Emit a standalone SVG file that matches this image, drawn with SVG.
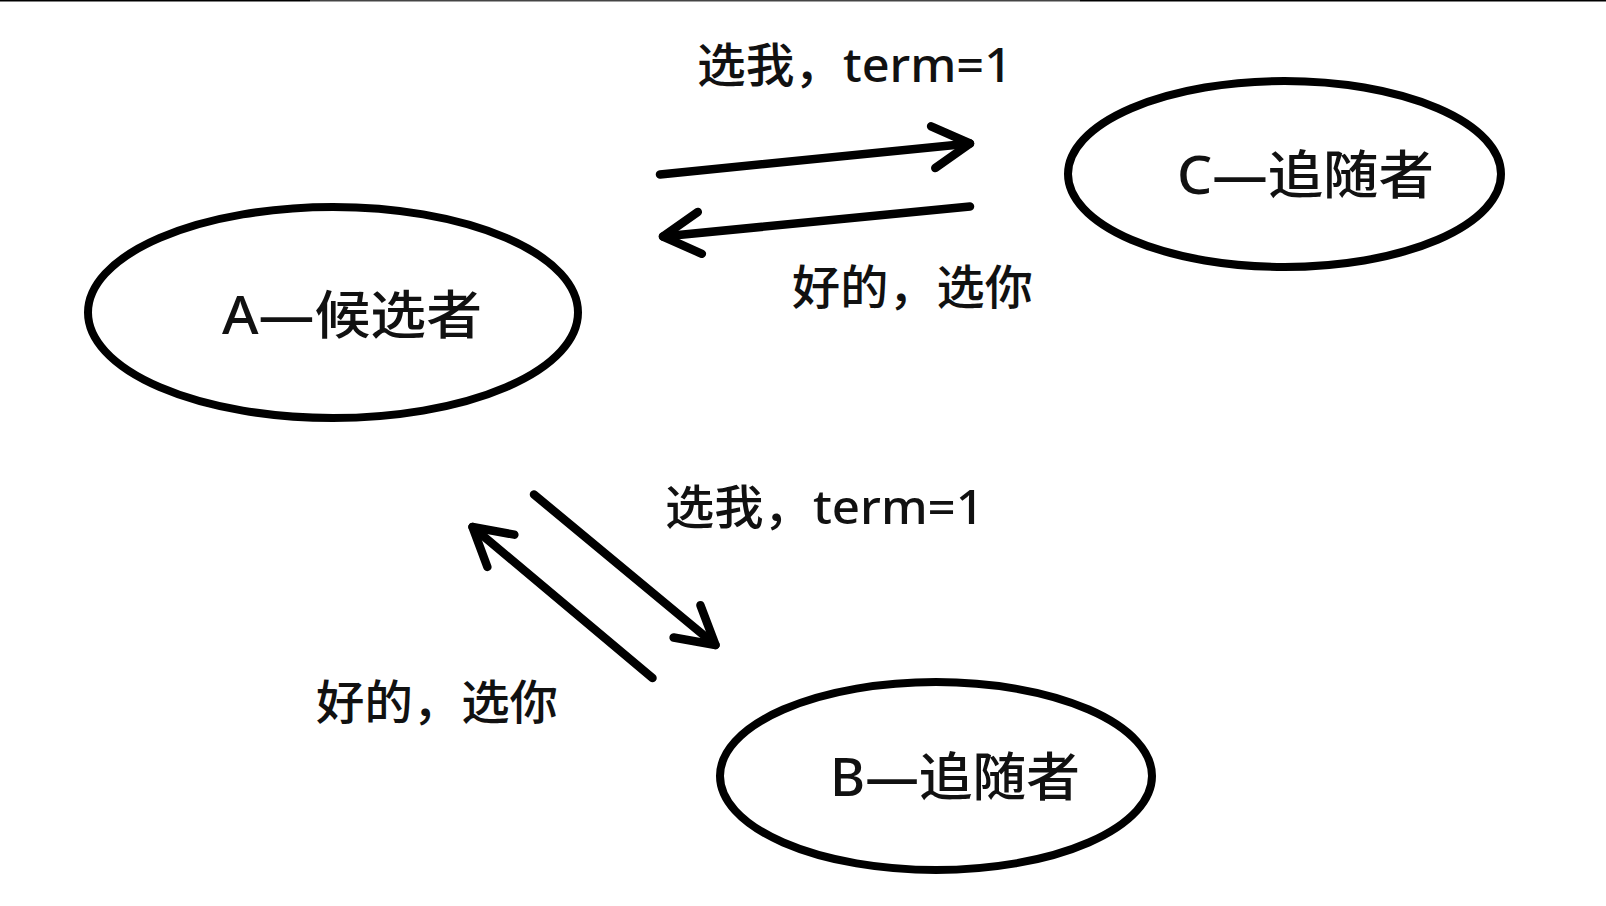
<svg xmlns="http://www.w3.org/2000/svg" width="1606" height="906" viewBox="0 0 1606 906">
  <defs>
    <style>
      .node { fill: none; stroke: #000; stroke-width: 8; }
      .lbl { font-family: 'Noto Sans', 'Noto Sans CJK SC', sans-serif; fill: #111; font-weight: 500; }
      .nlbl { font-size: 52px; }
      .elbl { font-size: 47px; }
      .edge { stroke: #000; stroke-width: 8.5; stroke-linecap: round; fill: none; }
    </style>
    <marker id="chev" markerUnits="userSpaceOnUse" orient="auto" refX="0" refY="0" markerWidth="100" markerHeight="100" overflow="visible">
      <path d="M -37,-21 L 0,0 L -37,21" fill="none" stroke="#000" stroke-width="8.5" stroke-linecap="round" stroke-linejoin="round"/>
    </marker>
  </defs>
  <rect x="0" y="0" width="1606" height="906" fill="#fff"/>
  <rect x="0" y="0" width="310" height="1.5" fill="#000"/>
  <rect x="310" y="0" width="770" height="1.5" fill="#444"/>
  <rect x="1080" y="0" width="526" height="1.5" fill="#000"/>

  <g id="node-A">
    <ellipse class="node" cx="333" cy="312.5" rx="245" ry="105.5"/>
    <text class="lbl nlbl" x="222" y="334" textLength="260" lengthAdjust="spacingAndGlyphs">A—候选者</text>
  </g>
  <g id="node-C">
    <ellipse class="node" cx="1284.5" cy="174" rx="216.5" ry="93"/>
    <text class="lbl nlbl" x="1177" y="194" textLength="257" lengthAdjust="spacingAndGlyphs">C—追随者</text>
  </g>
  <g id="node-B">
    <ellipse class="node" cx="936" cy="776" rx="216" ry="94"/>
    <text class="lbl nlbl" x="830" y="796" textLength="250" lengthAdjust="spacingAndGlyphs">B—追随者</text>
  </g>

  <g id="connectors">
    <path class="edge" d="M 660,174.5 L 970,143.5" marker-end="url(#chev)"/>
    <path class="edge" d="M 970,206.5 L 663,236.5" marker-end="url(#chev)"/>
    <path class="edge" d="M 534,494.5 L 715.5,645" marker-end="url(#chev)"/>
    <path class="edge" d="M 652.5,678 L 472.5,527" marker-end="url(#chev)"/>
    <text class="lbl elbl" x="697" y="82" textLength="315" lengthAdjust="spacingAndGlyphs">选我，term=1</text>
    <text class="lbl elbl" x="792" y="304" textLength="241" lengthAdjust="spacingAndGlyphs">好的，选你</text>
    <text class="lbl elbl" x="665" y="524" textLength="319" lengthAdjust="spacingAndGlyphs">选我，term=1</text>
    <text class="lbl elbl" x="316" y="719" textLength="242" lengthAdjust="spacingAndGlyphs">好的，选你</text>
  </g>
</svg>
